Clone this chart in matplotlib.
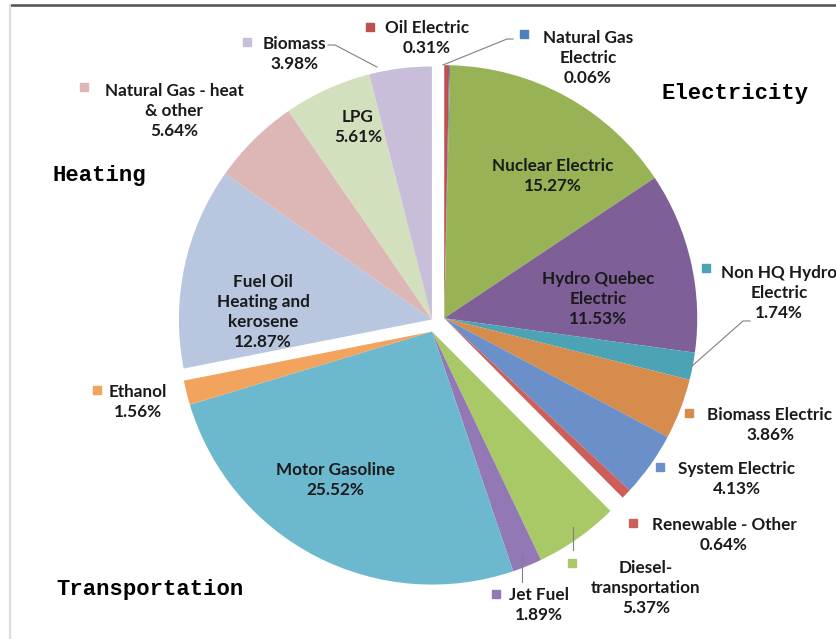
import numpy as np
import matplotlib.pyplot as plt
from matplotlib.lines import Line2D

# data: share of energy use (%), clockwise from 12 o'clock
labels = ['Oil Electric', 'Natural Gas\nElectric', 'Nuclear Electric', 'Hydro Quebec\nElectric',
          'Non HQ Hydro\nElectric', 'Biomass Electric', 'System Electric', 'Renewable - Other',
          'Diesel-\ntransportation', 'Jet Fuel', 'Motor Gasoline', 'Ethanol',
          'Fuel Oil\nHeating and\nkerosene', 'Natural Gas - heat\n& other', 'LPG', 'Biomass']
shares = [0.31, 0.06, 15.27, 11.53, 1.74, 3.86, 4.13, 0.64,
          5.37, 1.89, 25.52, 1.56,
          12.87, 5.64, 5.61, 3.98]
group_of = [0, 0, 0, 0, 0, 0, 0, 0, 1, 1, 1, 1, 2, 2, 2, 2]
group_names = ['Electricity', 'Transportation', 'Heating']

colors = ['#C0504D', '#4F81BD', '#97B356', '#7E5F98', '#4BA3B5', '#D68C4C', '#6A8FC9', '#CC5F5A',
          '#A9C866', '#9278B5', '#6BB8CF', '#F2A45E',
          '#B8C6E0', '#DDB7B6', '#D3E0BE', '#C8BEDA']

# layout (pixel coords, y down)
W, H = 836, 639
cx, cy, R = 435, 322, 253
explode_px = [10, 10, 4]
label_pos = [(427, 38), (588, 58), (553, 176), (598, 299), (779, 293), (770, 425), (737, 479),
             (724, 535), (646, 588), (539, 605), (335, 480), (138, 402), (263, 312), (174, 111),
             (358, 127), (294, 54)]
marker_pos = {0: (370, 27), 1: (524, 34), 4: (706, 268), 5: (689, 413), 6: (660, 467),
              7: (633, 523), 8: (572, 563), 9: (496, 594), 11: (97, 390), 13: (84, 87),
              15: (247, 42)}
title_pos = [(735, 93), (150, 590), (99, 175)]
leaders = [[(443, 65), (507, 39), (513, 39)],
           [(377, 67), (335, 45), (328, 45)],
           [(692, 366), (743, 321), (750, 321)],
           [(573, 527), (573, 550)],
           [(522, 555), (522, 582)]]

fig = plt.figure(figsize=(W / 100, H / 100), dpi=100)
ax = fig.add_axes([0, 0, 1, 1])

vals = np.array(shares) / sum(shares)
start = np.concatenate([[0], np.cumsum(vals)[:-1]])
gidx = np.array(group_of)
for g in range(3):
    idx = np.where(gidx == g)[0]
    f0 = start[idx[0]]
    fm = f0 + vals[idx].sum() / 2
    ang = np.deg2rad(90 - 360 * fm)
    c = (cx + explode_px[g] * np.cos(ang), (H - cy) + explode_px[g] * np.sin(ang))
    ax.pie(vals[idx], colors=[colors[i] for i in idx], startangle=90 - 360 * f0,
           counterclock=False, normalize=False, radius=R, center=c,
           wedgeprops=dict(linewidth=0))

for i, lab in enumerate(labels):
    x, y = label_pos[i]
    ax.text(x, H - y, lab + '\n' + f'{shares[i]:.2f}%', ha='center', va='center',
            ma='center', fontsize=12.3, family='Lato', fontweight='bold', color='#1a1a1a',
            linespacing=1.3)
for i, (x, y) in marker_pos.items():
    ax.plot(x, H - y, marker='s', markersize=6, color=colors[i], linestyle='none')

for pts in leaders:
    xs = [p[0] for p in pts]
    ys = [H - p[1] for p in pts]
    ax.plot(xs, ys, color='#808080', lw=0.8)

for name, (x, y) in zip(group_names, title_pos):
    ax.text(x, H - y, name, ha='center', va='center', fontsize=16,
            family='Liberation Mono', fontweight='bold', color='black')

ax.set_xlim(0, W)
ax.set_ylim(0, H)
ax.set_aspect('auto')
ax.axis('off')

# frame edges from the original screenshot
fig.add_artist(Line2D([10 / W, 1], [1 - 4.5 / H, 1 - 4.5 / H], color='#505050', lw=1.8))
fig.add_artist(Line2D([9.5 / W, 9.5 / W], [0, 1 - 4.5 / H], color='#dddddd', lw=1.5))

fig.savefig('out.png', dpi=100, facecolor='white')
